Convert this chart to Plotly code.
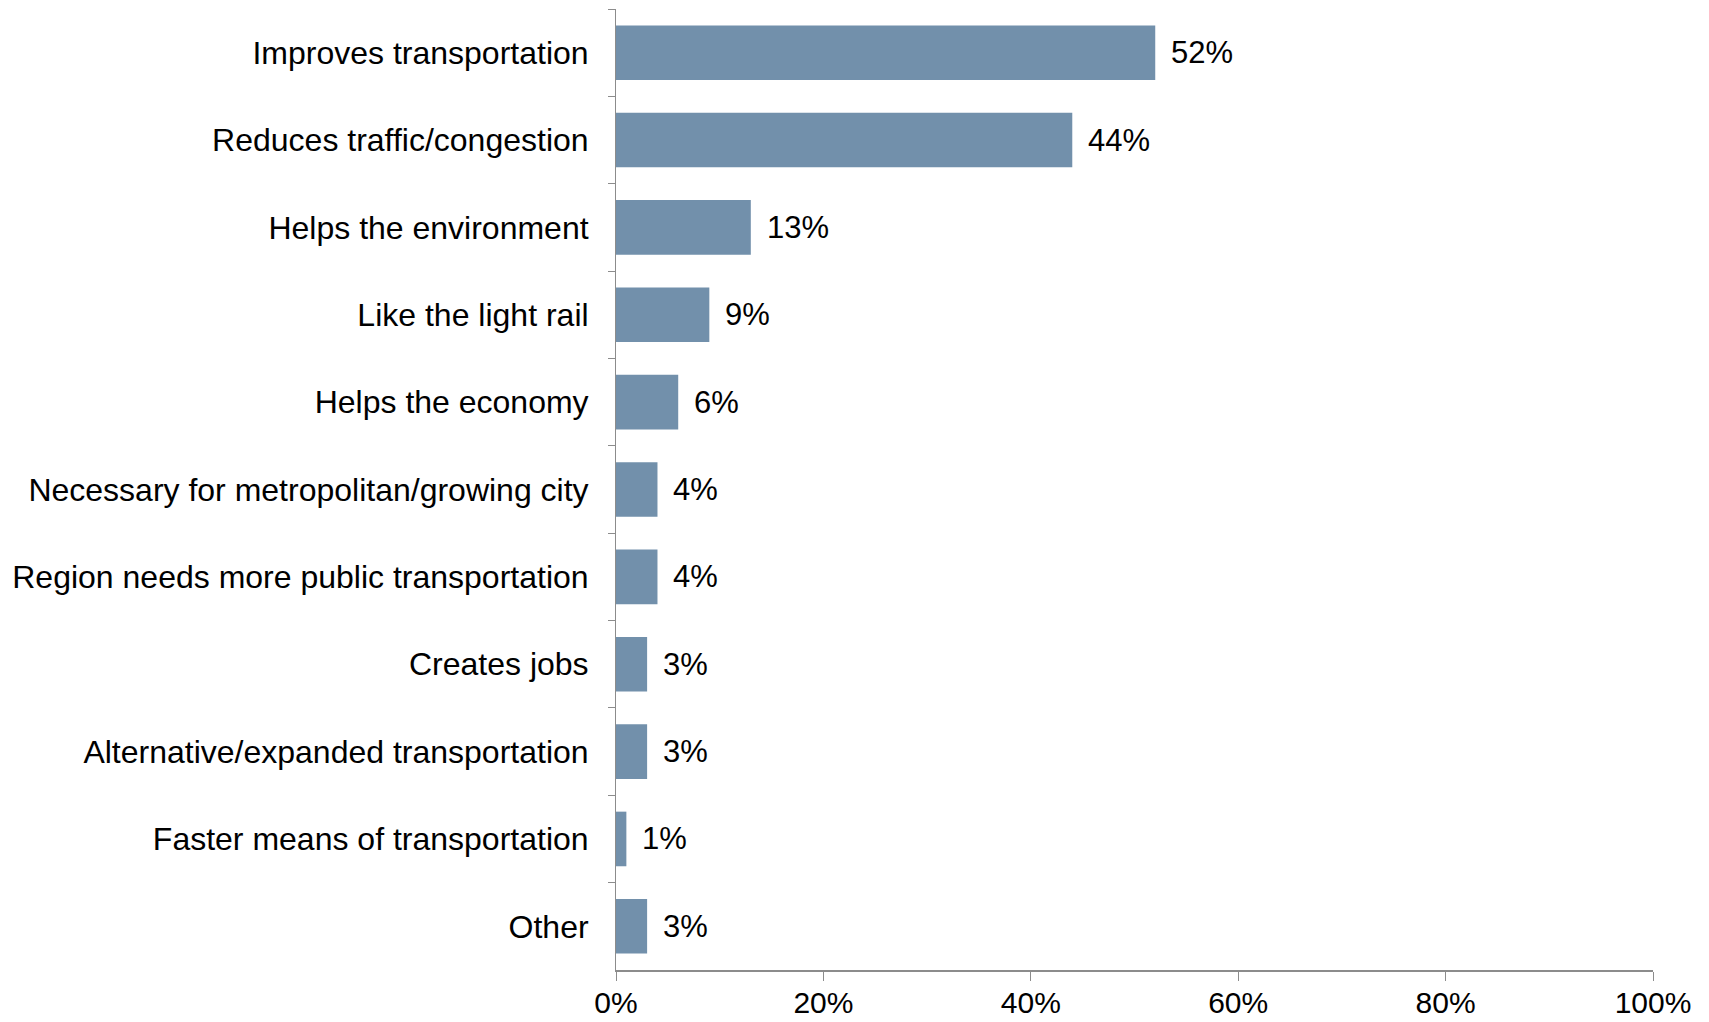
import plotly.graph_objects as go

# Reasons given for supporting the light rail (share of respondents, %)
categories = [
    "Improves transportation",
    "Reduces traffic/congestion",
    "Helps the environment",
    "Like the light rail",
    "Helps the economy",
    "Necessary for metropolitan/growing city",
    "Region needs more public transportation",
    "Creates jobs",
    "Alternative/expanded transportation",
    "Faster means of transportation",
    "Other",
]
values = [52, 44, 13, 9, 6, 4, 4, 3, 3, 1, 3]
x_ticks = [0, 20, 40, 60, 80, 100]
x_tick_labels = ["0%", "20%", "40%", "60%", "80%", "100%"]

FONT = "Liberation Sans, Arial, sans-serif"
BAR_COLOR = "#7290AB"
AXIS_COLOR = "#8C8C8C"

fig = go.Figure(
    go.Bar(
        x=values,
        y=categories,
        orientation="h",
        marker=dict(color=BAR_COLOR, line=dict(width=0)),
        hoverinfo="skip",
    )
)

# Value labels just past the end of each bar
for cat, v in zip(categories, values):
    fig.add_annotation(
        x=v, y=cat, text=f"{v}%", showarrow=False,
        xanchor="left", yanchor="middle", xshift=14,
        font=dict(family=FONT, size=31, color="#000000"),
    )

fig.update_layout(
    width=1709,
    height=1022,
    margin=dict(l=616, r=56, t=9, b=52, autoexpand=False),
    paper_bgcolor="white",
    plot_bgcolor="white",
    bargap=0.375,
    showlegend=False,
    font=dict(family=FONT, size=31, color="#000000"),
)

fig.update_xaxes(
    range=[0, 100],
    tickvals=x_ticks,
    ticktext=x_tick_labels,
    showgrid=False,
    zeroline=False,
    showline=True,
    linecolor=AXIS_COLOR,
    linewidth=2,
    ticks="outside",
    ticklen=9,
    tickwidth=1,
    tickcolor=AXIS_COLOR,
    ticklabelstandoff=-4,
    automargin=False,
    tickfont=dict(family=FONT, size=30, color="#000000"),
)

fig.update_yaxes(
    autorange="reversed",
    showgrid=False,
    showline=True,
    linecolor=AXIS_COLOR,
    linewidth=1,
    ticks="outside",
    tickson="boundaries",
    ticklen=7,
    tickwidth=1,
    tickcolor=AXIS_COLOR,
    ticklabelstandoff=20,
    automargin=False,
    tickfont=dict(family=FONT, size=32, color="#000000"),
)

fig.write_html("out.html")
